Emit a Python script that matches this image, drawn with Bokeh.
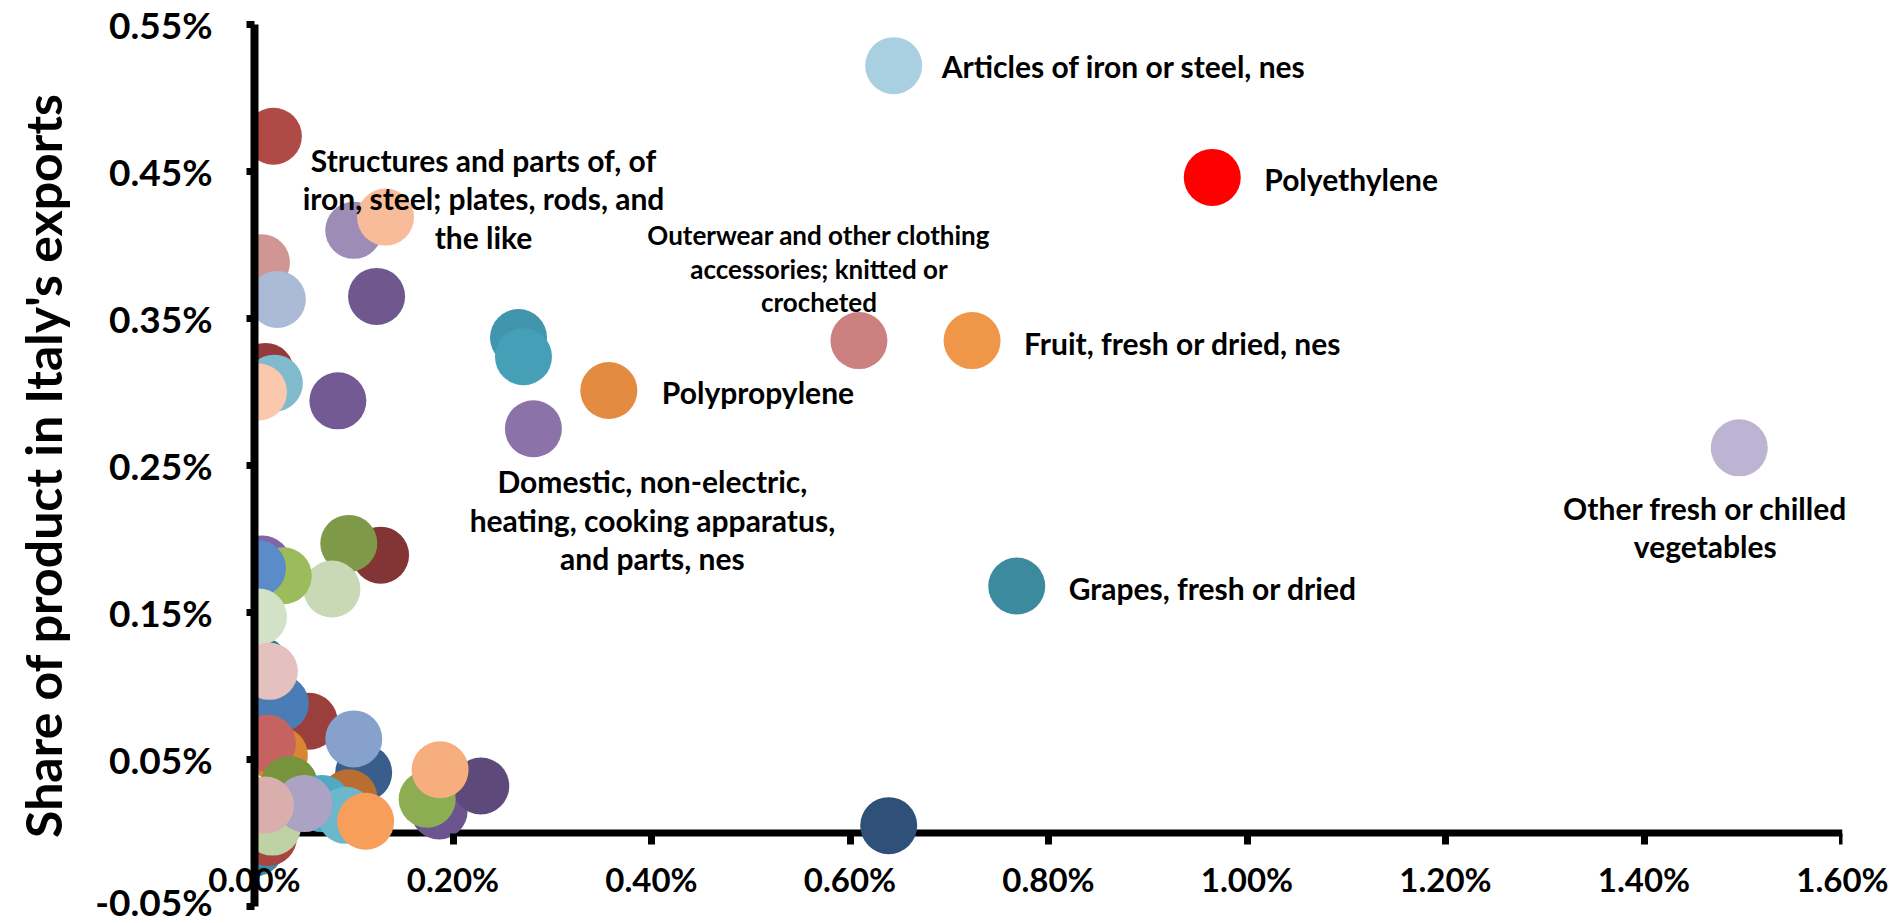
from bokeh.plotting import figure
from bokeh.models import FixedTicker, PrintfTickFormatter, ColumnDataSource, LinearAxis, Span
from bokeh.core.properties import value
from bokeh.embed import file_html
from bokeh.resources import INLINE

# Product share in world trade (x, %) against share in Italy's exports (y, %)
x_share = [0.007, 0.023, 0.019, 0.100, 0.132, 0.123, 0.266, 0.271, 0.011, 0.020,
           0.004, 0.084, 0.357, 0.281, 0.609, 0.723, 0.644, 0.965, 1.496, 0.768,
           0.639, 0.127, 0.095, 0.078, 0.008, 0.029, 0.003, 0.006, 0.004, 0.055,
           0.026, 0.015, 0.110, 0.100, 0.025, 0.013, 0.001, 0.014, 0.018, 0.035,
           0.095, 0.068, 0.092, 0.112, 0.050, 0.011, 0.186, 0.228, 0.174, 0.187]
y_share = [0.388, 0.363, 0.474, 0.410, 0.419, 0.365, 0.337, 0.324, 0.314, 0.306,
           0.300, 0.294, 0.301, 0.275, 0.335, 0.335, 0.522, 0.446, 0.262, 0.168,
           0.005, 0.189, 0.197, 0.166, 0.183, 0.175, 0.180, 0.114, 0.147, 0.076,
           0.088, 0.110, 0.041, 0.064, 0.053, 0.061, -0.010, -0.003, 0.004, 0.033,
           0.024, 0.020, 0.012, 0.008, 0.020, 0.019, 0.015, 0.032, 0.023, 0.043]
colors = ["#D09694", "#AABAD7", "#B04A46", "#9D8CB5", "#F9BC9A", "#70578E", "#4195AC", "#45A0B7", "#953A3A", "#80BACD",
          "#F9C8AD", "#735A95", "#E38B40", "#8B72A8", "#CC8080", "#F09648", "#A9D0E0", "#FF0000", "#BDB3D3", "#3B8A9E",
          "#2F5078", "#833535", "#7E9A48", "#C9D9B6", "#8066A8", "#9CBB5A", "#5B8BC9", "#2C7686", "#D3E2C7", "#9A3F3C",
          "#4A7DB6", "#E4C0BF", "#3A5E8C", "#85A1CC", "#D98532", "#C6625F", "#3A8EA3", "#A84442", "#BDD3A3", "#77933C",
          "#B86E30", "#4FA9C3", "#6BB7CC", "#F79E5B", "#ACA2C4", "#DBAEAE", "#6B5490", "#5E4A7A", "#8DAD52", "#F7AE7F"]

x_ticks = [0.0, 0.2, 0.4, 0.6, 0.8, 1.0, 1.2, 1.4, 1.6]
y_ticks = [-0.05, 0.05, 0.15, 0.25, 0.35, 0.45, 0.55]

# Named products and the bubble each name belongs to
label_text = ["Articles of iron or steel, nes", "Polyethylene", "Fruit, fresh or dried, nes",
              "Polypropylene", "Grapes, fresh or dried",
              "Domestic, non-electric,\nheating, cooking apparatus,\nand parts, nes",
              "Other fresh or chilled\nvegetables",
              "Structures and parts of, of\niron, steel; plates, rods, and\nthe like"]
label_point = [16, 17, 15, 12, 19, 13, 18, 4]
small_label_text = ["Outerwear and other clothing\naccessories; knitted or\ncrocheted"]
small_label_point = [14]

# screen offsets of each name from its bubble
label_dx = [48, 52, 52, 53, 52, 119, -34, 98]
label_dy = [0, 2, 2, 1, 2, 91, 79, -19]
label_align = ["left", "left", "left", "left", "left", "center", "center", "center"]

FONT = "Lato"

p = figure(width=1893, height=923, output_backend="svg", toolbar_location=None,
           x_range=(0, 1.6), y_range=(-0.05, 0.55),
           min_border_left=254, min_border_right=51, min_border_top=24, min_border_bottom=17)
p.outline_line_color = None
p.grid.visible = False
p.background_fill_color = "white"
p.border_fill_color = "white"

# horizontal axis line through zero, kept beneath the bubbles
p.add_layout(Span(location=0, dimension="width", line_color="black", line_width=7, level="underlay"))

bubbles = ColumnDataSource(dict(x=x_share, y=y_share, color=colors))
p.scatter("x", "y", source=bubbles, size=57, fill_color="color", line_color=None)

labels = ColumnDataSource(dict(
    x=[x_share[i] for i in label_point], y=[y_share[i] for i in label_point],
    text=label_text, dx=label_dx, dy=label_dy, align=label_align))
p.text("x", "y", text="text", source=labels, x_offset="dx", y_offset="dy",
       text_align="align", text_baseline="middle", text_font=value(FONT),
       text_font_style="bold", text_font_size="30px", text_color="black",
       text_line_height=1.07, level="overlay")

small_labels = ColumnDataSource(dict(
    x=[x_share[i] for i in small_label_point], y=[y_share[i] for i in small_label_point],
    text=small_label_text))
p.text("x", "y", text="text", source=small_labels, x_offset=-40, y_offset=-72,
       text_align="center", text_baseline="middle", text_font=value(FONT),
       text_font_style="bold", text_font_size="26px", text_color="black",
       text_line_height=1.06, level="overlay")

# tick marks hang from the zero line
xa = p.xaxis[0]
xa.fixed_location = 0
xa.ticker = FixedTicker(ticks=x_ticks)
xa.major_label_overrides = {t: "" for t in x_ticks}
xa.axis_line_color = None
xa.major_tick_line_width = 7
xa.major_tick_out = 11
xa.major_tick_in = 0
xa.minor_tick_out = 0
xa.minor_tick_in = 0

# tick labels sit in the band just above the bottom of the plot
xl = LinearAxis(ticker=FixedTicker(ticks=x_ticks), formatter=PrintfTickFormatter(format="%.2f%%"))
xl.axis_line_color = None
xl.major_tick_line_color = None
xl.minor_tick_line_color = None
xl.major_tick_out = 0
xl.major_tick_in = 0
xl.minor_tick_out = 0
xl.minor_tick_in = 0
xl.major_label_standoff = -48
xl.major_label_text_font = FONT
xl.major_label_text_font_style = "bold"
xl.major_label_text_font_size = "33px"
xl.major_label_text_color = "black"
p.add_layout(xl, "below")

ya = p.yaxis[0]
ya.ticker = FixedTicker(ticks=y_ticks)
ya.formatter = PrintfTickFormatter(format="%.2f%%")
ya.axis_line_width = 8
ya.major_tick_line_width = 7
ya.major_tick_out = 8
ya.major_tick_in = 0
ya.minor_tick_out = 0
ya.minor_tick_in = 0
ya.major_label_standoff = 34
ya.major_label_text_font = FONT
ya.major_label_text_font_style = "bold"
ya.major_label_text_font_size = "37px"
ya.major_label_text_color = "black"
ya.axis_label = "Share of product in Italy's exports"
ya.axis_label_text_font = FONT
ya.axis_label_text_font_style = "bold"
ya.axis_label_text_font_size = "50px"
ya.axis_label_text_color = "black"
ya.axis_label_standoff = 19

open("out.html", "w").write(file_html(p, INLINE))
